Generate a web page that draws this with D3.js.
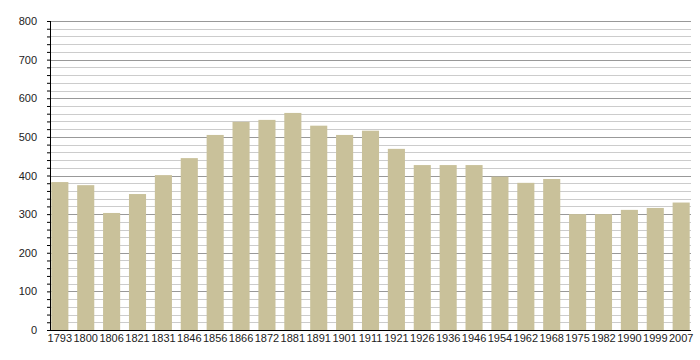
<!DOCTYPE html>
<html>
<head>
<meta charset="utf-8">
<script src="https://cdn.jsdelivr.net/npm/d3@7"></script>
<style>
  body { margin: 0; background: #fff; }
  text { font-family: "Liberation Sans", Arial, sans-serif; }
</style>
</head>
<body>
<div id="chart"></div>
<script>
var years = ["1793","1800","1806","1821","1831","1846","1856","1866","1872","1881","1891","1901","1911","1921","1926","1936","1946","1954","1962","1968","1975","1982","1990","1999","2007"];
var population = [383,375,303,352,401,445,505,539,544,562,529,505,516,469,427,427,427,397,381,391,300,300,311,316,330];
var majorTicks = [0,100,200,300,400,500,600,700,800];

var margin = {top: 21, left: 50, right: 9, bottom: 30},
    width = 700 - margin.left - margin.right,
    height = 360 - margin.top - margin.bottom;

var svg = d3.select("#chart").append("svg")
    .attr("width", 700)
    .attr("height", 360)
    .append("g")
    .attr("transform", "translate(" + margin.left + "," + margin.top + ")");

var x = d3.scaleBand().domain(years).range([0, width]).paddingInner(0.34).paddingOuter(0.05);
var y = d3.scaleLinear().domain([0, 800]).range([height, 0]);

var minorTicks = d3.range(0, 801, 20);

// minor grid
svg.selectAll(".minor")
    .data(minorTicks.filter(function(d) { return d % 100 != 0; }))
    .enter().append("line")
    .attr("x1", 0).attr("x2", width)
    .attr("y1", function(d) { return Math.round(y(d)) + 0.5; })
    .attr("y2", function(d) { return Math.round(y(d)) + 0.5; })
    .style("stroke", "#cccccc");

// major grid
svg.selectAll(".major")
    .data(majorTicks.filter(function(d) { return d > 0; }))
    .enter().append("line")
    .attr("x1", 0).attr("x2", width)
    .attr("y1", function(d) { return Math.round(y(d)) + 0.5; })
    .attr("y2", function(d) { return Math.round(y(d)) + 0.5; })
    .style("stroke", "#999999");

// bars
svg.selectAll(".bar")
    .data(population)
    .enter().append("rect")
    .attr("class", "bar")
    .attr("x", function(d, i) { return x(years[i]); })
    .attr("width", x.bandwidth())
    .attr("y", function(d) { return y(d); })
    .attr("height", function(d) { return height - y(d); })
    .style("fill", "#c9c19a");

// y axis
var yAxis = svg.append("g")
    .call(d3.axisLeft(y).tickValues(minorTicks).tickSize(3).tickFormat(function(d) { return d % 100 == 0 ? d : ""; }));
yAxis.select(".domain").attr("d", "M0.5,0V" + height).style("stroke", "#000");
yAxis.selectAll(".tick line").style("stroke", "#000");
yAxis.selectAll(".tick text").attr("x", -13).style("font-size", "11px").style("fill", "#222");

// x axis
var xAxis = svg.append("g")
    .attr("transform", "translate(0," + height + ")")
    .call(d3.axisBottom(x).tickSize(0).tickPadding(4));
xAxis.select(".domain").attr("d", "M0," + 0.5 + "H" + width).style("stroke", "#000");
xAxis.selectAll(".tick text").style("font-size", "11px").style("fill", "#222");
</script>
</body>
</html>
